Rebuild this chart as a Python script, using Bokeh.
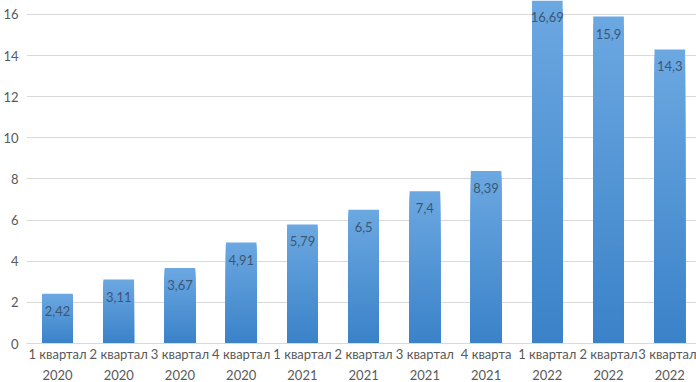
from bokeh.plotting import figure
from bokeh.models import FixedTicker, Range1d, ColumnDataSource, LinearAxis
from bokeh.core.properties import value
from bokeh.embed import file_html
from bokeh.resources import INLINE

# ---- data ----
quarters = ["1 квартал", "2 квартал", "3 квартал", "4 квартал",
            "1 квартал", "2 квартал", "3 квартал", "4 кварта",
            "1 квартал", "2 квартал", "3 квартал"]
years = ["2020", "2020", "2020", "2020",
         "2021", "2021", "2021", "2021",
         "2022", "2022", "2022"]
values = [2.42, 3.11, 3.67, 4.91, 5.79, 6.5, 7.4, 8.39, 16.69, 15.9, 14.3]
value_labels = ["2,42", "3,11", "3,67", "4,91", "5,79", "6,5", "7,4", "8,39",
                "16,69", "15,9", "14,3"]
y_ticks = [0, 2, 4, 6, 8, 10, 12, 14, 16]

positions = list(range(1, len(values) + 1))

# ---- gradient fill (styling only: light top, darker bottom per bar) ----
TOP = (108, 168, 226)
BOTTOM = (58, 130, 200)
N_STRIPS = 40

def mix(t):
    return "#%02x%02x%02x" % tuple(
        int(round(BOTTOM[k] + (TOP[k] - BOTTOM[k]) * t)) for k in range(3))

xs, tops, cols = [], [], []
for i in range(N_STRIPS, 0, -1):          # tallest layer first, shorter layers on top
    for x, v in zip(positions, values):
        xs.append(x)
        tops.append(v * i / N_STRIPS)
        cols.append(mix((i - 0.5) / N_STRIPS))

strip_src = ColumnDataSource(dict(x=xs, top=tops, color=cols))

p = figure(width=696, height=382, output_backend="svg", toolbar_location=None,
           x_range=Range1d(0.494, 11.436), y_range=Range1d(0, 16.68),
           min_border_left=0, min_border_right=0, min_border_top=0, min_border_bottom=0)

p.outline_line_color = None
p.background_fill_color = "white"
p.border_fill_color = "white"

p.xgrid.grid_line_color = None
p.ygrid.ticker = FixedTicker(ticks=y_ticks)
p.ygrid.grid_line_color = "#D9D9D9"
p.ygrid.grid_line_width = 1

p.vbar(x="x", bottom=0, top="top", width=0.5, source=strip_src,
       fill_color="color", line_color=None)

p.text(x=positions, y=values, text=value_labels, text_align="center",
       text_baseline="middle", y_offset=17, text_font=value("Lato"),
       text_font_size="13px", text_color="#3B5775")

def style_x(ax, labels, standoff):
    ax.ticker = FixedTicker(ticks=positions)
    ax.major_label_overrides = {pos: lab for pos, lab in zip(positions, labels)}
    ax.major_tick_line_color = None
    ax.major_tick_out = 0
    ax.major_tick_in = 0
    ax.minor_tick_line_color = None
    ax.major_label_text_font = "Lato"
    ax.major_label_text_font_size = "13px"
    ax.major_label_text_color = "#595959"
    ax.major_label_standoff = standoff

# first row: quarters
style_x(p.xaxis[0], quarters, 2)
p.xaxis[0].axis_line_color = "#D9D9D9"

# second row: years
year_axis = LinearAxis()
style_x(year_axis, years, 5)
year_axis.axis_line_color = None
p.add_layout(year_axis, "below")

p.yaxis.ticker = FixedTicker(ticks=y_ticks)
p.yaxis.axis_line_color = None
p.yaxis.major_tick_line_color = None
p.yaxis.major_tick_out = 0
p.yaxis.major_tick_in = 0
p.yaxis.minor_tick_line_color = None
p.yaxis.major_label_text_font = "Lato"
p.yaxis.major_label_text_font_size = "13px"
p.yaxis.major_label_text_color = "#595959"
p.yaxis.major_label_standoff = 8

open("out.html", "w").write(file_html(p, INLINE))
